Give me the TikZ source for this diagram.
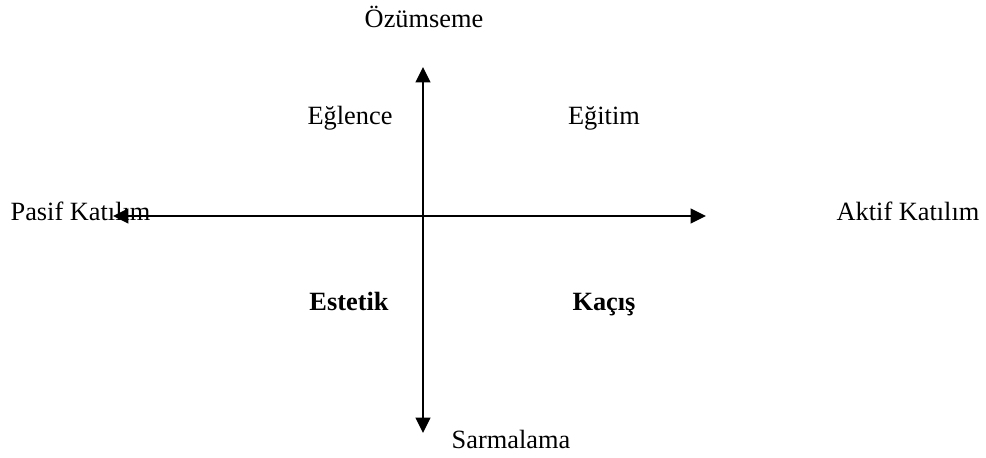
\documentclass[tikz,border=0pt]{standalone}
\usepackage{fontspec}
\setmainfont{Liberation Serif}
\usetikzlibrary{arrows.meta}
\begin{document}
\begin{tikzpicture}[x=0.016cm,y=-0.016cm,font=\fontsize{12}{14}\selectfont,
  ax/.style={line width=0.7pt,{Triangle[length=7pt,width=6.8pt]}-{Triangle[length=7pt,width=6.8pt]}},
  q/.style={inner sep=1pt,text height=1.6ex,text depth=0.5ex}]
\useasboundingbox (0,0) rectangle (986,457);
\coordinate (top) at (423,67);
\coordinate (bot) at (423,433);
\coordinate (lft) at (113,216);
\coordinate (rgt) at (706,216);
\draw[ax] (top) -- (bot);
\draw[ax] (lft) -- (rgt);
\node[q] (ozum) at (424,22) {Özümseme};
\node[q] (sarm) at (511,443) {Sarmalama};
\node[q,anchor=west] (pasif) at (8,215) {Pasif Katılım};
\node[q] (aktif) at (908,215) {Aktif Katılım};
\node[q] (eglence) at (350,119) {Eğlence};
\node[q] (egitim) at (604,119) {Eğitim};
\node[q,font=\fontsize{12}{14}\selectfont\bfseries] (estetik) at (349,305) {Estetik};
\node[q,font=\fontsize{12}{14}\selectfont\bfseries] (kacis) at (604,305) {Kaçış};
\end{tikzpicture}
\end{document}
